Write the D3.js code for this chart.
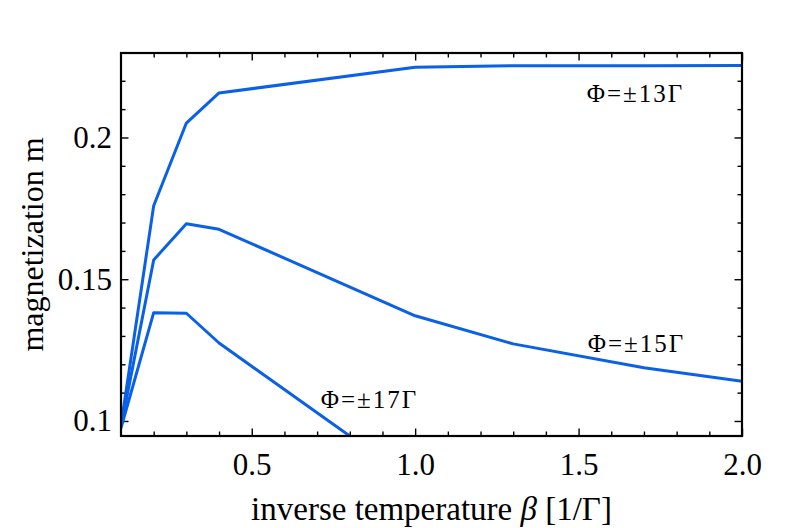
<!DOCTYPE html>
<html lang="en">
<head>
  <meta charset="utf-8" />
  <title>magnetization vs inverse temperature</title>
  <script src="https://d3js.org/d3.v7.min.js"></script>
  <style>
    body { margin: 0; background: #fff; }
    svg text { font-family: "Liberation Serif", "Times New Roman", serif; fill: #000; }
    .tick line { stroke: #000; stroke-width: 1.4px; }
    .curve { fill: none; stroke: #0a60e6; stroke-width: 3px; stroke-linejoin: round; }
  </style>
</head>
<body>
<script>
  // values
  var beta = [0.1, 0.2, 0.3, 0.4, 1.0, 1.3, 1.7, 2.0];
  var m13 = [0.0985, 0.1759, 0.2051, 0.2157, 0.2248, 0.2253, 0.2253, 0.2254];
  var m15 = [0.098, 0.1568, 0.1696, 0.1676, 0.1371, 0.1272, 0.1188, 0.1140];
  var beta17 = [0.1, 0.2, 0.3, 0.4, 1.0];
  var m17 = [0.0975, 0.1382, 0.1380, 0.1275, 0.0783];

  var labels = ["Φ=±13Γ", "Φ=±15Γ", "Φ=±17Γ"];
  var xMajor = [0.5, 1.0, 1.5, 2.0];
  var yMajor = [0.1, 0.15, 0.2];

  var width = 806, height = 528;
  var margin = {left: 121, right: 64, top: 53, bottom: 92};
  var w = width - margin.left - margin.right,
      h = height - margin.top - margin.bottom;

  var x = d3.scaleLinear().domain([0.1, 2.0]).range([0, w]);
  var y = d3.scaleLinear().domain([0.0947, 0.2298]).range([h, 0]);

  var xMinor = d3.range(2, 20).map(function(i) { return i / 10; })
    .filter(function(v) { return xMajor.indexOf(v) < 0; });
  var yMinor = d3.range(10, 23).map(function(i) { return i / 100; })
    .filter(function(v) { return yMajor.indexOf(v) < 0; });

  var svg = d3.select("body").append("svg")
    .attr("width", width)
    .attr("height", height);

  var g = svg.append("g")
    .attr("transform", "translate(" + margin.left + "," + margin.top + ")");

  g.append("clipPath").attr("id", "plotclip")
    .append("rect").attr("width", w).attr("height", h);

  // ticks on all four sides, pointing inward
  function addAxis(axis, tx, ty) {
    var a = g.append("g")
      .attr("transform", "translate(" + tx + "," + ty + ")")
      .call(axis);
    a.select(".domain").remove();
    return a;
  }

  var bottomMaj = addAxis(d3.axisBottom(x).tickValues(xMajor).tickSize(-7.5).tickPadding(17)
    .tickFormat(function(d) { return d.toFixed(1); }), 0, h);
  addAxis(d3.axisBottom(x).tickValues(xMinor).tickSize(-4.5).tickFormat(""), 0, h);
  addAxis(d3.axisTop(x).tickValues(xMajor).tickSize(-7.5).tickFormat(""), 0, 0);
  addAxis(d3.axisTop(x).tickValues(xMinor).tickSize(-4.5).tickFormat(""), 0, 0);

  var leftMaj = addAxis(d3.axisLeft(y).tickValues(yMajor).tickSize(-7.5).tickPadding(9)
    .tickFormat(function(d) { return String(+d.toFixed(2)); }), 0, 0);
  addAxis(d3.axisLeft(y).tickValues(yMinor).tickSize(-4.5).tickFormat(""), 0, 0);
  addAxis(d3.axisRight(y).tickValues(yMajor).tickSize(-7.5).tickFormat(""), w, 0);
  addAxis(d3.axisRight(y).tickValues(yMinor).tickSize(-4.5).tickFormat(""), w, 0);

  bottomMaj.selectAll("text").style("font-size", "31px");
  leftMaj.selectAll("text").style("font-size", "31px");

  // curves
  var line = d3.line()
    .x(function(d) { return x(d[0]); })
    .y(function(d) { return y(d[1]); });

  var series = [
    d3.zip(beta, m13),
    d3.zip(beta, m15),
    d3.zip(beta17, m17)
  ];

  g.append("g").attr("clip-path", "url(#plotclip)")
    .selectAll("path")
    .data(series)
    .enter().append("path")
    .attr("class", "curve")
    .attr("d", line);

  // frame
  g.append("rect")
    .attr("width", w).attr("height", h)
    .attr("fill", "none").attr("stroke", "#000").attr("stroke-width", 2.2);

  // curve labels
  var labelPos = [[1.525, 0.2124], [1.528, 0.1244], [0.711, 0.1045]];
  g.selectAll(".lbl")
    .data(labels)
    .enter().append("text")
    .attr("class", "lbl")
    .attr("x", function(d, i) { return x(labelPos[i][0]); })
    .attr("y", function(d, i) { return y(labelPos[i][1]); })
    .style("font-size", "25px")
    .style("letter-spacing", "2px")
    .text(function(d) { return d; });

  // axis titles
  var xt = svg.append("text")
    .attr("x", margin.left + w / 2)
    .attr("y", 520)
    .attr("text-anchor", "middle")
    .style("font-size", "33px");
  xt.append("tspan").text("inverse temperature ");
  xt.append("tspan").style("font-style", "italic").text("β");
  xt.append("tspan").text(" [1/Γ]");

  svg.append("text")
    .attr("transform", "translate(43," + (margin.top + h / 2) + ") rotate(-90)")
    .attr("text-anchor", "middle")
    .style("font-size", "32px")
    .text("magnetization m");
</script>
</body>
</html>
